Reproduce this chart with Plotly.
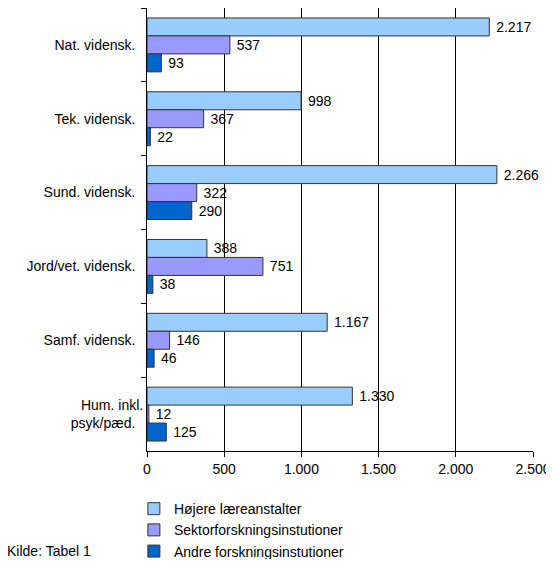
import plotly.graph_objects as go

# fagområder, top to bottom
categories = [
    "Nat. vidensk.",
    "Tek. vidensk.",
    "Sund. vidensk.",
    "Jord/vet. vidensk.",
    "Samf. vidensk.",
    "Hum. inkl.<br>psyk/pæd.",
]

hoejere = [2217, 998, 2266, 388, 1167, 1330]
sektor = [537, 367, 322, 751, 146, 12]
andre = [93, 22, 290, 38, 46, 125]

series = [
    ("Højere læreanstalter", hoejere, "#99CCFF"),
    ("Sektorforskningsinstutioner", sektor, "#9999FF"),
    ("Andre forskningsinstutioner", andre, "#0066CC"),
]

font = "Liberation Sans, Arial, sans-serif"

fig = go.Figure()
for name, vals, color in series:
    fig.add_trace(go.Bar(
        y=categories,
        x=vals,
        name=name,
        orientation="h",
        marker=dict(color=color, line=dict(color="#333333", width=1)),
        texttemplate=" %{x:,}",
        textposition="outside",
        textfont=dict(size=14, color="black", family=font),
        cliponaxis=False,
    ))

# page body has an 8px margin: size the figure so the page does not overflow
fig.update_layout(
    width=546,
    height=551,
    barmode="group",
    bargap=0.27,
    bargroupgap=0,
    separators=",.",
    plot_bgcolor="white",
    paper_bgcolor="white",
    font=dict(family=font, size=14, color="black"),
    margin=dict(l=139, r=21, t=0, b=108, autoexpand=False),
    legend=dict(
        orientation="v",
        x=-0.034, xanchor="left",
        y=-0.095, yanchor="top",
        font=dict(size=14),
        tracegroupgap=0,
        itemwidth=30,
    ),
    annotations=[dict(
        text="Kilde: Tabel 1",
        xref="paper", yref="paper",
        x=-0.368, xanchor="left",
        y=-0.226, yanchor="middle",
        showarrow=False,
        font=dict(size=14),
    )],
)

fig.update_xaxes(
    range=[0, 2500],
    tickvals=[0, 500, 1000, 1500, 2000, 2500],
    tickformat=",",
    ticklabeloverflow="allow",
    showgrid=True,
    gridcolor="black",
    gridwidth=1,
    zeroline=False,
    showline=True,
    linecolor="black",
    ticks="outside",
    ticklen=5,
    tickcolor="black",
    automargin=False,
)
fig.update_yaxes(
    autorange="reversed",
    showline=True,
    linecolor="black",
    ticks="outside",
    tickson="boundaries",
    ticklen=5,
    tickcolor="black",
    showgrid=False,
    ticksuffix="  ",
    automargin=False,
)

fig.write_html("out.html")
